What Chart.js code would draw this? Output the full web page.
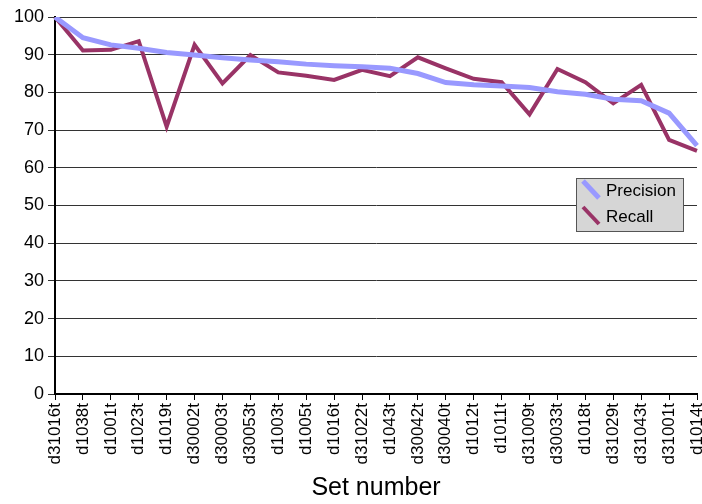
<!DOCTYPE html>
<html lang="en">
<head>
    <meta charset="UTF-8">
    <title>Precision and Recall by Set</title>
    <script src="https://cdn.jsdelivr.net/npm/chart.js"></script>
    <style>
        body {
          margin: 0;
          padding: 0;
          background: #fff;
        }
        .wrap {
          width: 702px;
          height: 504px;
        }
    </style>
</head>
<body>
<div class="wrap">
    <canvas id="prChart" width="702" height="504"></canvas>
</div>

<script>
    const sets = ['d31016t','d1038t','d1001t','d1023t','d1019t','d30002t','d30003t','d30053t',
      'd1003t','d1005t','d1016t','d31022t','d1043t','d30042t','d30040t','d1012t',
      'd1011t','d31009t','d30033t','d1018t','d31029t','d31043t','d31001t','d1014t'];
    const precision = [100, 94.5, 92.6, 91.7, 90.6, 89.9, 89.2, 88.6, 88.1, 87.5, 87.1, 86.8,
      86.4, 85.0, 82.6, 82.0, 81.7, 81.3, 80.2, 79.5, 78.2, 77.8, 74.5, 65.9];
    const recall = [100, 91.1, 91.3, 93.6, 70.9, 92.6, 82.4, 89.9, 85.3, 84.4, 83.3, 86.0,
      84.3, 89.3, 86.4, 83.6, 82.7, 74.2, 86.2, 82.7, 77.1, 82.0, 67.4, 64.5];

    const font = "'Liberation Sans', Arial, sans-serif";

    // legend box sitting inside the plot, with slanted line swatches
    const boxLegend = {
      id: 'boxLegend',
      afterDraw(chart) {
        const ctx = chart.ctx;
        ctx.save();
        ctx.fillStyle = '#d6d6d6';
        ctx.strokeStyle = '#555';
        ctx.lineWidth = 1;
        ctx.fillRect(576.5, 178.5, 107, 53);
        ctx.strokeRect(576.5, 178.5, 107, 53);
        ctx.font = '17px ' + font;
        ctx.textBaseline = 'middle';
        chart.data.datasets.forEach((ds, i) => {
          const y0 = 181 + i * 26;
          ctx.strokeStyle = ds.borderColor;
          ctx.lineWidth = ds.borderWidth;
          ctx.beginPath();
          ctx.moveTo(583, y0);
          ctx.lineTo(599, y0 + 17);
          ctx.stroke();
          ctx.fillStyle = '#000';
          ctx.fillText(ds.label, 606, y0 + 10);
        });
        ctx.restore();
      }
    };

    new Chart(document.getElementById('prChart'), {
      type: 'line',
      data: {
        labels: sets,
        datasets: [{
          label: 'Precision',
          data: precision,
          borderColor: '#9999ff',
          borderWidth: 5,
          pointRadius: 0,
          tension: 0
        }, {
          label: 'Recall',
          data: recall,
          borderColor: '#993366',
          borderWidth: 4,
          pointRadius: 0,
          tension: 0
        }]
      },
      options: {
        responsive: false,
        animation: false,
        layout: { padding: { top: 17, right: 5, left: 0, bottom: 0 } },
        plugins: {
          legend: { display: false },
          tooltip: { enabled: false }
        },
        scales: {
          x: {
            offset: false,
            afterFit(scale) {
              scale.height = 110;
              scale.paddingLeft = 0;
              scale.paddingRight = 0;
            },
            grid: { drawOnChartArea: false, drawTicks: true, tickLength: 6, color: '#000' },
            border: { color: '#000', width: 2 },
            ticks: {
              autoSkip: false,
              minRotation: 90,
              maxRotation: 90,
              padding: 3,
              color: '#000',
              font: { family: font, size: 17 }
            },
            title: {
              display: true,
              text: 'Set number',
              color: '#000',
              font: { family: font, size: 25 },
              padding: { top: 0, bottom: 1 }
            }
          },
          y: {
            min: 0,
            max: 100,
            afterFit(scale) { scale.width = 55; },
            grid: { color: '#333', lineWidth: 1, tickLength: 7 },
            border: { color: '#000', width: 2 },
            ticks: {
              stepSize: 10,
              padding: 4,
              color: '#000',
              font: { family: font, size: 18 }
            }
          }
        }
      },
      plugins: [boxLegend]
    });
</script>
</body>
</html>
